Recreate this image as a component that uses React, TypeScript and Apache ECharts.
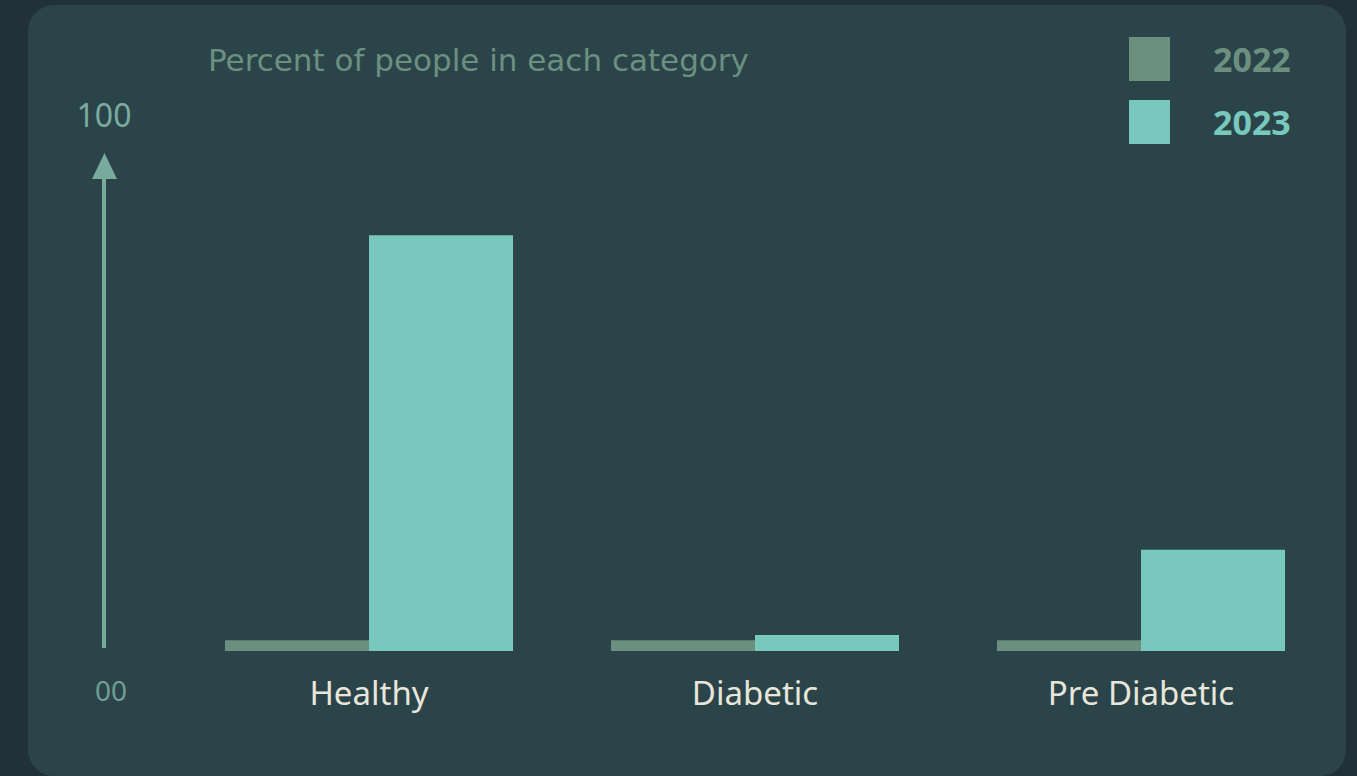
import React, { useEffect, useRef } from "react";
import * as echarts from "echarts";

const categories = ["Healthy", "Diabetic", "Pre Diabetic"];
const seriesNames = ["2022", "2023"];
const values2022 = [2, 2, 2];
const values2023 = [78, 3, 19];
const axisTopLabel = "100";
const axisBottomLabel = "00";
const chartTitle = "Percent of people in each category";

const FONT = "'Noto Sans', 'Open Sans', sans-serif";
const C2022 = "#6b9080";
const C2023 = "#78c8be";

export default function App() {
  const ref = useRef<HTMLDivElement>(null);
  useEffect(() => {
    if (!ref.current) return;
    const chart = echarts.init(ref.current, null, { renderer: "svg" });
    chart.setOption({
      animation: false,
      backgroundColor: "#223039",
      title: {
        text: chartTitle,
        left: 203,
        top: 39,
        textStyle: {
          color: C2022,
          fontSize: 31,
          fontWeight: "normal",
          fontFamily: "'DejaVu Sans', sans-serif",
        },
      },
      legend: {
        orient: "vertical",
        left: 1124,
        top: 32,
        itemWidth: 41,
        itemHeight: 44,
        itemGap: 19,
        icon: "rect",
        data: [
          { name: seriesNames[0], textStyle: { color: C2022 } },
          { name: seriesNames[1], textStyle: { color: C2023 } },
        ],
        textStyle: {
          fontSize: 34,
          fontWeight: "bold",
          fontFamily: FONT,
          padding: [0, 0, 0, 38],
        },
      },
      graphic: [
        {
          type: "rect",
          z: -10,
          shape: { x: 28, y: 5, width: 1318, height: 771, r: 26 },
          style: { fill: "#2b444a" },
        },
        {
          type: "line",
          shape: { x1: 104, y1: 648, x2: 104, y2: 172 },
          style: { stroke: "#79ab9d", lineWidth: 4 },
        },
        {
          type: "polygon",
          shape: { points: [[92, 179], [117, 179], [104.5, 153]] },
          style: { fill: "#79ab9d" },
        },
        {
          type: "text",
          x: 104,
          y: 114,
          style: {
            text: axisTopLabel,
            fill: "#7aab9e",
            fontSize: 32,
            fontFamily: FONT,
            align: "center",
            verticalAlign: "middle",
          },
        },
        {
          type: "text",
          x: 111,
          y: 690,
          style: {
            text: axisBottomLabel,
            fill: "#6f9f94",
            fontSize: 28,
            fontFamily: FONT,
            align: "center",
            verticalAlign: "middle",
          },
        },
      ],
      grid: { left: 176, right: 23, top: 118, bottom: 125 },
      xAxis: {
        type: "category",
        data: categories,
        axisLine: { show: false },
        axisTick: { show: false },
        axisLabel: {
          color: "#e8e6da",
          fontSize: 33,
          fontFamily: FONT,
          margin: 25,
        },
      },
      yAxis: {
        type: "value",
        min: 0,
        max: 100,
        show: false,
        splitLine: { show: false },
      },
      series: [
        {
          name: seriesNames[0],
          type: "bar",
          data: values2022,
          barWidth: 144,
          barGap: "0%",
          itemStyle: { color: C2022 },
        },
        {
          name: seriesNames[1],
          type: "bar",
          data: values2023,
          barWidth: 144,
          itemStyle: { color: C2023 },
        },
      ],
    });
    return () => chart.dispose();
  }, []);
  return (
    <div
      ref={ref}
      style={{ position: "fixed", left: 0, top: 0, width: 1357, height: 776 }}
    />
  );
}
